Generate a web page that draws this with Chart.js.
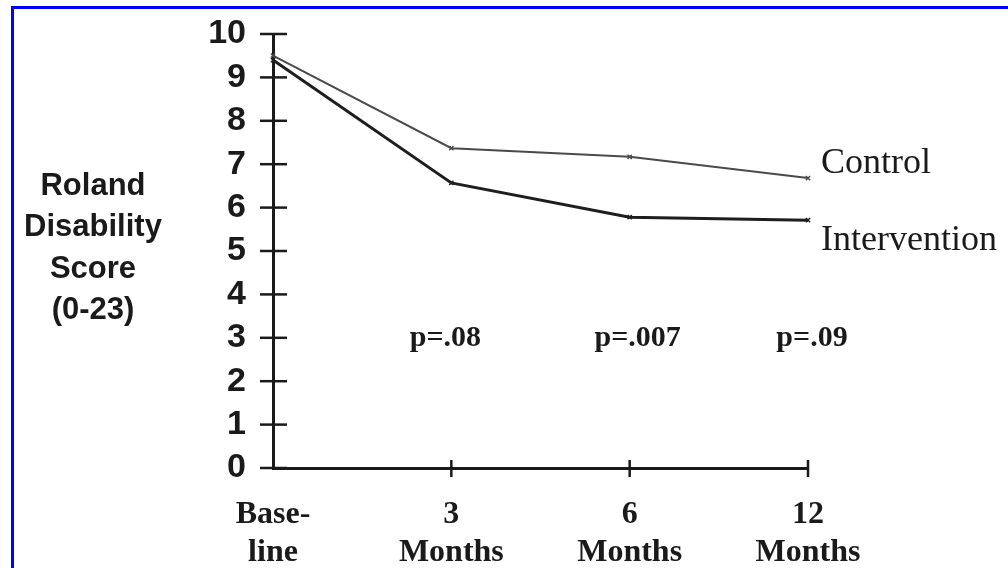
<!DOCTYPE html>
<html lang="en">
<head>
    <meta charset="UTF-8">
    <title>Roland Disability Score</title>
    <style>
        html, body { margin: 0; padding: 0; background: #fff; overflow: hidden; }
        #frame {
            position: absolute; left: 11px; top: 6px; width: 1100px; height: 700px;
            border-top: 3px solid #0000ff; border-left: 3px solid #0000ff;
        }
        #container { position: absolute; left: 0; top: 0; width: 1008px; height: 568px; }
    </style>
</head>
<body>
<div id="frame"></div>
<div id="container">
    <canvas id="canvas" width="1008" height="568"></canvas>
</div>

<script src="https://cdn.jsdelivr.net/npm/chart.js@4.4.0/dist/chart.umd.min.js"></script>
<script>
    const LABELS = [["Base-", "line"], ["3", "Months"], ["6", "Months"], ["12", "Months"]];
    const CONTROL = [9.5, 7.37, 7.17, 6.68];
    const INTERVENTION = [9.4, 6.57, 5.78, 5.71];
    const P_VALUES = ["", "p=.08", "p=.007", "p=.09"];
    const P_LEVEL = 3;
    const Y_TITLE = ["Roland", "Disability", "Score", "(0-23)"];

    const ink = "#1a1a1a";

    // cross-shaped tick marks, series names, p-values and the y title
    const extras = {
        id: "extras",
        afterDraw(chart) {
            const c = chart.ctx;
            const x = chart.scales.x, y = chart.scales.y;
            c.save();
            c.strokeStyle = ink;
            c.lineWidth = 2.5;
            for (let v = 0; v <= 10; v++) {
                const py = y.getPixelForValue(v);
                c.beginPath();
                c.moveTo(x.left - 13, py);
                c.lineTo(x.left + 14, py);
                c.stroke();
            }
            for (let i = 1; i < LABELS.length; i++) {
                const px = x.getPixelForValue(i);
                c.beginPath();
                c.moveTo(px, y.bottom - 8);
                c.lineTo(px, y.bottom + 9);
                c.stroke();
            }

            c.fillStyle = ink;
            c.textAlign = "center";
            c.textBaseline = "middle";
            c.font = "bold 30px 'Liberation Serif', serif";
            P_VALUES.forEach((t, i) => {
                if (t) c.fillText(t, x.getPixelForValue(i) + (i === 1 ? -6 : i === 2 ? 8 : 4), y.getPixelForValue(P_LEVEL));
            });

            c.textAlign = "left";
            c.font = "36px 'Liberation Serif', serif";
            const last = LABELS.length - 1;
            c.fillText("Control", x.getPixelForValue(last) + 13, y.getPixelForValue(CONTROL[last]) - 15);
            c.fillText("Intervention", x.getPixelForValue(last) + 13, y.getPixelForValue(INTERVENTION[last]) + 20);

            c.textAlign = "center";
            c.font = "bold 31px 'Liberation Sans', Arial, sans-serif";
            Y_TITLE.forEach((t, i) => c.fillText(t, 93, 186 + i * 41.5));
            c.restore();
        }
    };

    const line = (label, data, color, width) => ({
        label: label,
        data: data,
        borderColor: color,
        borderWidth: width,
        pointStyle: "crossRot",
        pointRadius: 3,
        pointBorderWidth: 1.5,
        pointBorderColor: color,
        fill: false,
        tension: 0
    });

    new Chart(document.getElementById("canvas"), {
        type: "line",
        data: {
            labels: LABELS,
            datasets: [
                line("Control", CONTROL, "#4a4a4a", 2),
                line("Intervention", INTERVENTION, "#1e1e1e", 3)
            ]
        },
        options: {
            responsive: false,
            animation: false,
            layout: { padding: { left: 0, top: 34, right: 200, bottom: 0 } },
            plugins: { legend: { display: false }, tooltip: { enabled: false } },
            scales: {
                x: {
                    offset: false,
                    grid: { display: false, drawTicks: false },
                    border: { display: true, color: ink, width: 3 },
                    ticks: {
                        color: ink,
                        padding: 28,
                        maxRotation: 0,
                        autoSkip: false,
                        font: { family: "'Liberation Serif', serif", size: 32, weight: "bold", lineHeight: "38px" }
                    },
                    afterFit(scale) { scale.height = 100; }
                },
                y: {
                    min: 0,
                    max: 10,
                    grid: { display: false, drawTicks: false },
                    border: { display: true, color: ink, width: 3 },
                    ticks: {
                        stepSize: 1,
                        autoSkip: false,
                        color: ink,
                        padding: 27,
                        font: { family: "'Liberation Sans', Arial, sans-serif", size: 34, weight: "bold", lineHeight: 0.3 }
                    },
                    afterFit(scale) { scale.width = 273; }
                }
            }
        },
        plugins: [extras]
    });
</script>
</body>
</html>
